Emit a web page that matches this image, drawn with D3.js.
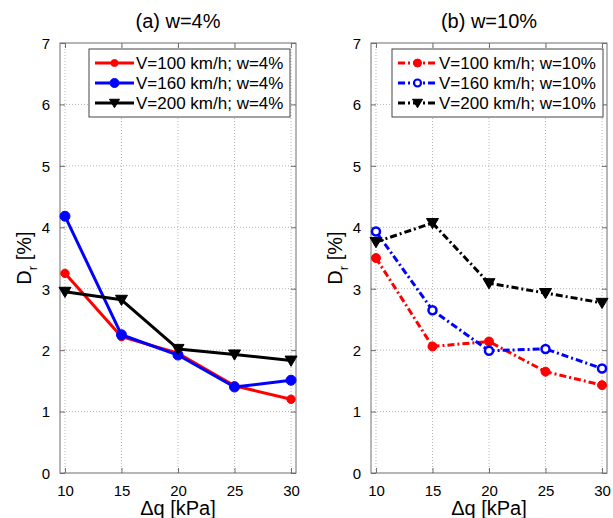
<!DOCTYPE html>
<html>
<head>
<meta charset="utf-8">
<script src="https://cdn.jsdelivr.net/npm/d3@7"></script>
<style>
  html, body { margin: 0; padding: 0; background: #fff; }
  svg { display: block; font-family: "Liberation Sans", Arial, sans-serif; }
</style>
</head>
<body>
<svg id="chart" width="613" height="518"></svg>
<script>
// ---- data ----
const xValues = [10, 15, 20, 25, 30];
const xTicks = [10, 15, 20, 25, 30];
const yTicks = [0, 1, 2, 3, 4, 5, 6, 7];

const titleA = "(a) w=4%";
const titleB = "(b) w=10%";

const seriesNamesA = ["V=100 km/h; w=4%", "V=160 km/h; w=4%", "V=200 km/h; w=4%"];
const seriesNamesB = ["V=100 km/h; w=10%", "V=160 km/h; w=10%", "V=200 km/h; w=10%"];

const v100_w4  = [3.25, 2.22, 1.95, 1.42, 1.20];
const v160_w4  = [4.18, 2.25, 1.92, 1.40, 1.51];
const v200_w4  = [2.95, 2.82, 2.02, 1.93, 1.83];

const v100_w10 = [3.50, 2.06, 2.14, 1.65, 1.43];
const v160_w10 = [3.93, 2.65, 1.99, 2.02, 1.70];
const v200_w10 = [3.76, 4.07, 3.09, 2.93, 2.77];

// ---- drawing ----
const svg = d3.select("#chart");
const colors = ["#ff0000", "#0000ff", "#000000"];
const axisColor = "#6e6e6e";
const FONT = "'Liberation Sans', Arial, sans-serif";

function drawPanel(opt) {
  const W = 236, H = 430;
  const g = svg.append("g").attr("transform", `translate(${opt.left},43)`);
  const x = d3.scaleLinear().domain([9.56, 30.44]).range([0, W]);
  const y = d3.scaleLinear().domain([0, 7]).range([H, 0]);

  // grid
  g.append("g").selectAll("line").data(xTicks).join("line")
    .attr("x1", d => x(d)).attr("x2", d => x(d)).attr("y1", 0).attr("y2", H)
    .attr("stroke", "#b4b4b4").attr("stroke-width", 1).attr("stroke-dasharray", "1,2");
  g.append("g").selectAll("line").data(yTicks.filter(d => d > 0 && d < 7)).join("line")
    .attr("x1", 0).attr("x2", W).attr("y1", d => y(d)).attr("y2", d => y(d))
    .attr("stroke", "#b4b4b4").attr("stroke-width", 1).attr("stroke-dasharray", "1,2");

  // axes using d3 axis (inward ticks)
  const tl = 5;
  const fmt = d3.format("d");
  const xb = g.append("g").attr("transform", `translate(0,${H})`)
    .call(d3.axisBottom(x).tickValues(xTicks).tickFormat(fmt).tickSizeInner(-tl).tickSizeOuter(0).tickPadding(12));
  const xt = g.append("g")
    .call(d3.axisTop(x).tickValues(xTicks).tickSizeInner(-tl).tickSizeOuter(0).tickFormat(""));
  const yl = g.append("g")
    .call(d3.axisLeft(y).tickValues(yTicks).tickFormat(fmt).tickSizeInner(-tl).tickSizeOuter(0).tickPadding(10));
  const yr = g.append("g").attr("transform", `translate(${W},0)`)
    .call(d3.axisRight(y).tickValues(yTicks).tickSizeInner(-tl).tickSizeOuter(0).tickFormat(""));
  [xb, xt, yl, yr].forEach(a => {
    a.attr("font-family", FONT).attr("font-size", 15);
    a.select(".domain").remove();
    a.selectAll("line").attr("stroke", axisColor);
    a.selectAll("text").attr("fill", "#000");
  });
  yl.selectAll("text").attr("dy", "0.36em");
  xb.selectAll("text").attr("dy", "0.71em");
  g.append("rect").attr("x", 0).attr("y", 0).attr("width", W).attr("height", H)
    .attr("fill", "none").attr("stroke", axisColor).attr("stroke-width", 1);

  // series
  const line = d3.line().x((d, i) => x(xValues[i])).y(d => y(d));
  opt.series.forEach((s, k) => {
    g.append("path").datum(s).attr("d", line)
      .attr("fill", "none").attr("stroke", colors[k]).attr("stroke-width", 3)
      .attr("stroke-linejoin", "round")
      .attr("stroke-dasharray", opt.dash ? "7,3,2,3" : null);
    g.append("g").selectAll("path").data(s).join("path")
      .attr("transform", (d, i) => `translate(${x(xValues[i])},${y(d)})`)
      .attr("d", markerPath(opt.markers[k]))
      .attr("fill", opt.markers[k].fill ? colors[k] : "#fff")
      .attr("stroke", colors[k]).attr("stroke-width", opt.markers[k].sw);
  });

  // title
  svg.append("text").attr("x", opt.left + W / 2).attr("y", 28)
    .attr("text-anchor", "middle").style("font-size", "20px").text(opt.title);

  // x label
  svg.append("text").attr("x", opt.left + W / 2).attr("y", 515)
    .attr("text-anchor", "middle").style("font-size", "20px").text("\u0394q [kPa]");

  // y label
  const yt = svg.append("text")
    .attr("transform", `translate(${opt.left - 29},${43 + H / 2}) rotate(-90)`)
    .attr("text-anchor", "middle").style("font-size", "20px");
  yt.append("tspan").text("D");
  yt.append("tspan").attr("dy", 6).style("font-size", "13px").text("r");
  yt.append("tspan").attr("dy", -6).text(" [%]");

  // legend
  const lg = svg.append("g").attr("transform", `translate(${opt.legX},49)`);
  lg.append("rect").attr("x", 0).attr("y", 0).attr("width", opt.legW).attr("height", 68)
    .attr("fill", "#fff").attr("stroke", "#444").attr("stroke-width", 1);
  opt.names.forEach((nm, k) => {
    const cy = 14 + k * 20;
    lg.append("line").attr("x1", 6).attr("x2", 45).attr("y1", cy).attr("y2", cy)
      .attr("stroke", colors[k]).attr("stroke-width", 3)
      .attr("stroke-dasharray", opt.dash ? "7,3,2,3" : null);
    lg.append("path").attr("transform", `translate(25.5,${cy})`)
      .attr("d", markerPath(opt.legMarkers[k]))
      .attr("fill", opt.legMarkers[k].fill ? colors[k] : "#fff")
      .attr("stroke", colors[k]).attr("stroke-width", opt.legMarkers[k].sw);
    lg.append("text").attr("x", 47).attr("y", cy).attr("dy", "0.36em")
      .style("font-size", "17px").text(nm);
  });
}

function markerPath(m) {
  if (m.type === "circle") {
    return d3.symbol().type(d3.symbolCircle).size(Math.PI * m.r * m.r)();
  }
  // downward triangle
  const r = m.r;
  return `M${-r},${-r * 0.75}L${r},${-r * 0.75}L0,${r * 0.95}Z`;
}

drawPanel({
  left: 60, title: titleA, names: seriesNamesA,
  series: [v100_w4, v160_w4, v200_w4], dash: false,
  markers: [{type: "circle", r: 4.2, fill: true, sw: 1},
            {type: "circle", r: 5, fill: true, sw: 1},
            {type: "tri", r: 6, fill: true, sw: 1}],
  legMarkers: [{type: "circle", r: 3.5, fill: true, sw: 1},
               {type: "circle", r: 4.5, fill: true, sw: 1},
               {type: "tri", r: 5, fill: true, sw: 1}],
  legX: 89, legW: 201
});

drawPanel({
  left: 371, title: titleB, names: seriesNamesB,
  series: [v100_w10, v160_w10, v200_w10], dash: true,
  markers: [{type: "circle", r: 4.5, fill: true, sw: 1},
            {type: "circle", r: 4, fill: false, sw: 2.5},
            {type: "tri", r: 6, fill: true, sw: 1}],
  legMarkers: [{type: "circle", r: 4, fill: true, sw: 1},
               {type: "circle", r: 3.5, fill: false, sw: 2.2},
               {type: "tri", r: 5, fill: true, sw: 1}],
  legX: 392, legW: 211
});
</script>
</body>
</html>
